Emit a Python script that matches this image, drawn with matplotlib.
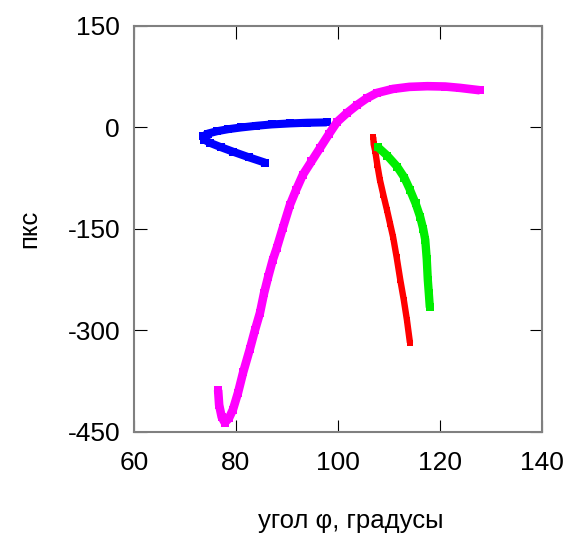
import matplotlib
matplotlib.use("Agg")
import matplotlib.pyplot as plt

plt.rcParams['font.family'] = ['Liberation Sans', 'DejaVu Sans']
plt.rcParams['axes.unicode_minus'] = False

# blue
blue_x = [97.8, 94.0, 90.6, 87.0, 84.0, 81.0, 78.5, 76.3, 74.5, 73.6, 73.8,
          75.0, 77.0, 79.5, 82.5, 85.7]
blue_y = [7.5, 7, 6, 4.5, 2.5, 0, -2.5, -5.5, -9, -13, -18,
          -23, -29, -36, -44, -52]
# magenta
mag_x = [76.5, 76.7, 77.2, 77.8, 78.6, 79.4, 80.4, 81.4, 82.7, 83.7, 84.7,
         85.5, 86.3, 87.2, 88.0, 89.2, 90.6, 91.8, 93.1, 94.8, 96.5, 98.2,
         99.8, 101.7, 103.7, 105.6, 107.6, 110.8, 114.0, 117.5, 121.0, 123.9,
         127.8]
mag_y = [-388, -410, -428, -436, -430, -417, -392, -362, -328, -300, -274,
         -245, -221, -196, -178, -148, -114, -92, -70, -50, -30, -10,
         8, 21, 33, 43, 51, 57, 60, 61, 60.5, 58.5, 55]
# red
red_x = [106.9, 107.0, 107.3, 107.7, 108.2, 108.9, 109.6, 110.2, 110.8,
         111.5, 112.2, 112.9, 113.5, 114.1]
red_y = [-14, -25, -35, -55, -77, -100, -122, -142, -162,
         -192, -225, -255, -284, -318]
# green
green_x = [107.8, 109.7, 111.6, 113.0, 114.1, 115.2, 116.1, 116.7, 117.1,
           117.4, 117.6, 117.8, 118.0]
green_y = [-29, -42, -58, -74, -92, -112, -132, -150, -166,
           -195, -225, -245, -266]

fig = plt.figure(figsize=(5.7, 5.41), dpi=100)
ax = fig.add_axes([0.235, 0.2015, 0.716, 0.7505])

series = [(blue_x, blue_y, '#0000ff', 5.8),
          (mag_x, mag_y, '#ff00ff', 6.2),
          (red_x, red_y, '#ff0000', 4.6),
          (green_x, green_y, '#00ee00', 6.0)]
for xs, ys, c, w in series:
    ax.plot(xs, ys, color=c, lw=w, marker='s', ms=w * 0.95, mec=c, mfc=c,
            mew=0, solid_capstyle='butt', solid_joinstyle='round')

ax.set_xlim(60, 140)
ax.set_ylim(-450, 150)
ax.set_xticks([60, 80, 100, 120, 140])
ax.set_yticks([-450, -300, -150, 0, 150])
ax.tick_params(direction='in', length=9, width=0.8, top=True, right=True,
               labelsize=19, pad=10)
ax.tick_params(axis='x', pad=14)
for s in ax.spines.values():
    s.set_color('#808080')
    s.set_linewidth(1.5)

ax.set_xlabel('угол φ, градусы', fontsize=18.5, labelpad=24, x=0.532)
ax.set_ylabel('пкс', fontsize=18.5, labelpad=19)

fig.savefig('out.png', dpi=100)
